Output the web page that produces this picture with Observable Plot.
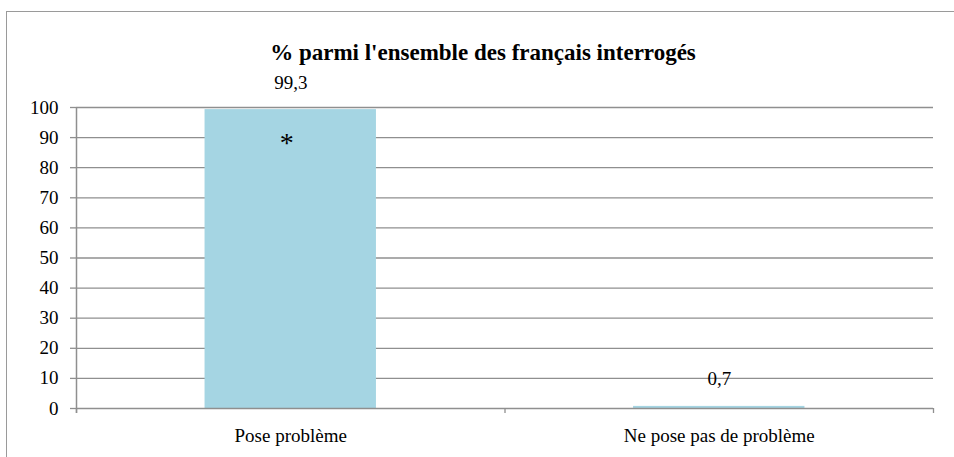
<!DOCTYPE html>
<html>
<head>
<meta charset="utf-8">
<script src="https://cdn.jsdelivr.net/npm/d3@7"></script>
<script src="https://cdn.jsdelivr.net/npm/@observablehq/plot@0.6"></script>
<style>
  html, body { margin: 0; padding: 0; background: #fff; }
  #wrap { position: relative; width: 954px; height: 457px; overflow: hidden; font-family: "Liberation Serif", "Times New Roman", Tinos, "Nimbus Roman", "DejaVu Serif", serif; }
  #border { position: absolute; left: 6px; top: 11px; width: 1000px; height: 1000px; border: 1.5px solid #9a9a9a; box-sizing: border-box; }
  #title { position: absolute; left: 0; width: 966px; top: 39px; text-align: center; font-weight: bold; font-size: 23px; line-height: 28px; color: #000; }
  #chart { position: absolute; left: 0; top: 0; }
</style>
</head>
<body>
<div id="wrap">
  <div id="border"></div>
  <div id="chart"></div>
  <div id="title">% parmi l'ensemble des français interrogés</div>
</div>
<script>
const categories = ["Pose problème", "Ne pose pas de problème"];
const values = [99.3, 0.7];
const valueLabels = ["99,3", "0,7"];
const annotations = [{category: "Pose problème", text: "*"}];
const yTicks = [0, 10, 20, 30, 40, 50, 60, 70, 80, 90, 100];

const data = categories.map((c, i) => ({category: c, i, value: values[i], label: valueLabels[i]}));
const notes = annotations.map(a => {
  const i = categories.indexOf(a.category);
  return {i, value: values[i], text: a.text};
});

const gray = "#8f8f8f";
const font = "'Liberation Serif', 'Times New Roman', Tinos, 'Nimbus Roman', 'DejaVu Serif', serif";

const chart = Plot.plot({
  width: 954,
  height: 457,
  marginLeft: 76,
  marginRight: 21,
  marginTop: 107,
  marginBottom: 49,
  style: {fontFamily: font, background: "transparent", color: "#000"},
  x: {type: "linear", domain: [0, categories.length], axis: null},
  y: {domain: [0, 100], axis: null},
  marks: [
    Plot.gridY(yTicks.filter(d => d > 0), {stroke: gray, strokeOpacity: 1, strokeWidth: 1.3}),
    Plot.rectY(data, {x1: d => d.i + 0.3, x2: d => d.i + 0.7, y1: 0, y2: "value", fill: "#a5d5e3"}),
    Plot.ruleY([0], {stroke: gray, strokeWidth: 1.5}),
    Plot.ruleX([0], {stroke: gray, strokeWidth: 1.5, insetBottom: -5}),
    Plot.axisY({ticks: yTicks, label: null, tickSize: 6, tickPadding: 12, stroke: gray, strokeWidth: 1.3, fill: "#000", fontSize: 19, fontFamily: font}),
    Plot.axisX({ticks: d3.range(categories.length + 1), label: null, tickSize: 5, tickFormat: () => "", stroke: gray, strokeWidth: 1.3}),
    Plot.text(data, {x: d => d.i + 0.5, y: 0, text: "category", dy: 27, fontSize: 19, fill: "#000", fontFamily: font}),
    Plot.text(data, {x: d => d.i + 0.5, y: "value", text: "label", dy: -27, fontSize: 19, fill: "#000", fontFamily: font}),
    Plot.text(notes, {x: d => d.i + 0.5, y: "value", text: "text", dy: 33, dx: -4, fontSize: 28, fill: "#000", fontFamily: font})
  ]
});
document.getElementById("chart").appendChild(chart);
</script>
</body>
</html>
